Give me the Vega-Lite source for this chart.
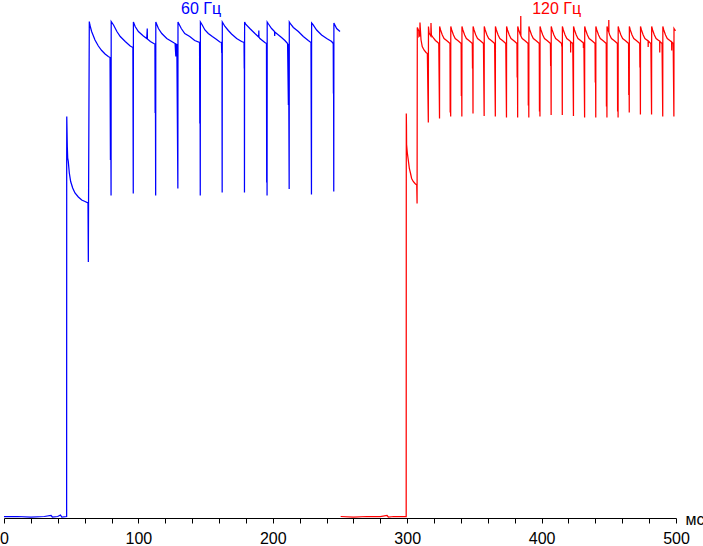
{
"$schema":"https://vega.github.io/schema/vega-lite/v6.json",
"width":672,"height":518,
"autosize":{"type":"none"},
"padding":{"left":4,"top":0,"right":27,"bottom":28},
"background":"white",
"config":{"view":{"stroke":null}},
"encoding":{
"x":{"field":"t","type":"quantitative","scale":{"domain":[0,500],"nice":false,"zero":false},
"axis":{"values":[0,20,40,60,80,100,120,140,160,180,200,220,240,260,280,300,320,340,360,380,400,420,440,460,480,500],
"labelExpr":"datum.value % 100 === 0 ? datum.label : ''","grid":false,"domainColor":"#000000","domainWidth":1,"tickColor":"#000000","tickSize":5,"tickWidth":1,
"labelFont":"Liberation Sans","labelFontSize":16,"labelColor":"#000000","labelBaseline":"alphabetic","labelPadding":20,"labelOverlap":false,"labelBound":false,"labelFlush":false,
"title":"мс","titleFont":"Liberation Sans","titleFontSize":16,"titleFontWeight":"normal","titleColor":"#000000","titleX":681,"titleY":6,"titleAlign":"left","titleBaseline":"alphabetic","titleAngle":0}},
"y":{"field":"v","type":"quantitative","scale":{"domain":[0,103.6],"nice":false,"zero":false},"axis":null},
"color":{"field":"s","type":"nominal","scale":{"domain":["60 Гц","120 Гц"],"range":["#0000ff","#ff0000"]},"legend":null}
},
"layer":[
{"data":{"values":[
{"s":"60 Гц","t":0,"v":0.3},{"s":"60 Гц","t":10,"v":0.3},{"s":"60 Гц","t":20,"v":0.2},{"s":"60 Гц","t":30,"v":0.3},{"s":"60 Гц","t":35,"v":0.5},{"s":"60 Гц","t":36,"v":0.2},{"s":"60 Гц","t":40,"v":0.3},{"s":"60 Гц","t":42,"v":0.6},{"s":"60 Гц","t":43,"v":0.2},{"s":"60 Гц","t":46.6,"v":0.3},
{"s":"60 Гц","t":46.65,"v":71.0},{"s":"60 Гц","t":46.7,"v":80.3},{"s":"60 Гц","t":47.1,"v":74.3},{"s":"60 Гц","t":47.4,"v":72.0},{"s":"60 Гц","t":47.8,"v":71.4},{"s":"60 Гц","t":48.6,"v":69.0},{"s":"60 Гц","t":49.6,"v":67.3},{"s":"60 Гц","t":51.1,"v":66.0},{"s":"60 Гц","t":52.8,"v":65.0},{"s":"60 Гц","t":55.3,"v":64.2},{"s":"60 Гц","t":57.8,"v":63.6},{"s":"60 Гц","t":60.3,"v":63.3},{"s":"60 Гц","t":62.5,"v":63.0},{"s":"60 Гц","t":62.75,"v":51.2},{"s":"60 Гц","t":62.9,"v":63.0},
{"s":"60 Гц","t":63.47,"v":99.3},{"s":"60 Гц","t":63.9,"v":98.6},{"s":"60 Гц","t":65.2,"v":97.3},{"s":"60 Гц","t":67.7,"v":95.6},{"s":"60 Гц","t":70.2,"v":94.4},{"s":"60 Гц","t":72.7,"v":93.5},{"s":"60 Гц","t":75.2,"v":92.8},{"s":"60 Гц","t":77.6,"v":92.3},{"s":"60 Гц","t":78.9,"v":92.1},{"s":"60 Гц","t":79.2,"v":71.6},{"s":"60 Гц","t":79.35,"v":92.0},{"s":"60 Гц","t":79.66,"v":64.5},
{"s":"60 Гц","t":79.76,"v":99.3},{"s":"60 Гц","t":81.5,"v":98.6},{"s":"60 Гц","t":84.0,"v":97.3},{"s":"60 Гц","t":86.5,"v":96.3},{"s":"60 Гц","t":90.2,"v":95.3},{"s":"60 Гц","t":93.9,"v":94.4},{"s":"60 Гц","t":95.9,"v":94.1},{"s":"60 Гц","t":96.18,"v":64.9},
{"s":"60 Гц","t":96.28,"v":99.2},{"s":"60 Гц","t":97.6,"v":98.3},{"s":"60 Гц","t":100.0,"v":97.3},{"s":"60 Гц","t":103.7,"v":96.4},{"s":"60 Гц","t":106.2,"v":95.9},{"s":"60 Гц","t":106.6,"v":97.9},{"s":"60 Гц","t":106.7,"v":95.8},{"s":"60 Гц","t":108.9,"v":95.3},{"s":"60 Гц","t":111.4,"v":94.9},{"s":"60 Гц","t":112.3,"v":94.8},{"s":"60 Гц","t":112.45,"v":81.0},{"s":"60 Гц","t":112.6,"v":94.8},{"s":"60 Гц","t":112.85,"v":64.5},
{"s":"60 Гц","t":112.95,"v":99.2},{"s":"60 Гц","t":114.9,"v":97.9},{"s":"60 Гц","t":117.4,"v":96.9},{"s":"60 Гц","t":121.1,"v":95.9},{"s":"60 Гц","t":124.8,"v":95.3},{"s":"60 Гц","t":127.3,"v":94.9},{"s":"60 Гц","t":127.85,"v":92.3},{"s":"60 Гц","t":127.95,"v":94.8},{"s":"60 Гц","t":128.6,"v":94.7},{"s":"60 Гц","t":129.36,"v":65.9},
{"s":"60 Гц","t":129.46,"v":99.2},{"s":"60 Гц","t":131.9,"v":97.9},{"s":"60 Гц","t":134.5,"v":96.9},{"s":"60 Гц","t":138.2,"v":96.3},{"s":"60 Гц","t":141.9,"v":95.5},{"s":"60 Гц","t":145.5,"v":95.1},{"s":"60 Гц","t":145.7,"v":78.9},{"s":"60 Гц","t":145.85,"v":95.1},{"s":"60 Гц","t":146.03,"v":64.5},
{"s":"60 Гц","t":146.13,"v":99.2},{"s":"60 Гц","t":147.5,"v":98.6},{"s":"60 Гц","t":149.5,"v":97.6},{"s":"60 Гц","t":152.0,"v":96.9},{"s":"60 Гц","t":155.0,"v":96.3},{"s":"60 Гц","t":158.2,"v":95.7},{"s":"60 Гц","t":160.6,"v":95.2},{"s":"60 Гц","t":161.8,"v":95.1},{"s":"60 Гц","t":162.0,"v":93.0},{"s":"60 Гц","t":162.15,"v":95.0},{"s":"60 Гц","t":162.33,"v":65.1},
{"s":"60 Гц","t":162.43,"v":99.2},{"s":"60 Гц","t":164.4,"v":98.3},{"s":"60 Гц","t":166.9,"v":97.5},{"s":"60 Гц","t":169.3,"v":96.8},{"s":"60 Гц","t":173.1,"v":95.9},{"s":"60 Гц","t":176.8,"v":95.3},{"s":"60 Гц","t":178.6,"v":95.1},{"s":"60 Гц","t":178.75,"v":89.9},{"s":"60 Гц","t":178.85,"v":95.0},{"s":"60 Гц","t":178.92,"v":65.1},
{"s":"60 Гц","t":179.02,"v":99.2},{"s":"60 Гц","t":180.0,"v":98.7},{"s":"60 Гц","t":182.9,"v":97.9},{"s":"60 Гц","t":186.7,"v":96.9},{"s":"60 Гц","t":189.5,"v":96.2},{"s":"60 Гц","t":189.6,"v":97.5},{"s":"60 Гц","t":189.7,"v":96.2},{"s":"60 Гц","t":190.4,"v":95.9},{"s":"60 Гц","t":194.1,"v":95.1},{"s":"60 Гц","t":195.3,"v":94.9},{"s":"60 Гц","t":195.45,"v":67.1},{"s":"60 Гц","t":195.6,"v":94.9},{"s":"60 Гц","t":195.73,"v":64.5},
{"s":"60 Гц","t":195.83,"v":99.2},{"s":"60 Гц","t":196.8,"v":98.8},{"s":"60 Гц","t":199.1,"v":97.9},{"s":"60 Гц","t":201.3,"v":97.3},{"s":"60 Гц","t":201.4,"v":96.4},{"s":"60 Гц","t":201.5,"v":97.2},{"s":"60 Гц","t":206.5,"v":96.1},{"s":"60 Гц","t":209.0,"v":95.5},{"s":"60 Гц","t":211.0,"v":94.9},{"s":"60 Гц","t":211.6,"v":82.6},{"s":"60 Гц","t":211.75,"v":94.8},{"s":"60 Гц","t":212.18,"v":65.8},
{"s":"60 Гц","t":212.28,"v":99.2},{"s":"60 Гц","t":213.2,"v":98.8},{"s":"60 Гц","t":215.3,"v":98.1},{"s":"60 Гц","t":219.0,"v":97.3},{"s":"60 Гц","t":222.7,"v":96.3},{"s":"60 Гц","t":226.4,"v":95.5},{"s":"60 Гц","t":228.4,"v":95.1},{"s":"60 Гц","t":228.77,"v":64.7},
{"s":"60 Гц","t":228.87,"v":99.0},{"s":"60 Гц","t":229.8,"v":98.7},{"s":"60 Гц","t":232.6,"v":97.6},{"s":"60 Гц","t":236.3,"v":96.6},{"s":"60 Гц","t":240.1,"v":95.9},{"s":"60 Гц","t":243.8,"v":95.3},{"s":"60 Гц","t":244.97,"v":94.9},{"s":"60 Гц","t":245.1,"v":84.9},{"s":"60 Гц","t":245.2,"v":94.9},{"s":"60 Гц","t":245.36,"v":65.3},
{"s":"60 Гц","t":245.46,"v":99.0},{"s":"60 Гц","t":246.0,"v":98.7},{"s":"60 Гц","t":247.5,"v":97.9},{"s":"60 Гц","t":250.0,"v":97.3},
{"s":"120 Гц","t":250.5,"v":0.3},{"s":"120 Гц","t":260,"v":0.2},{"s":"120 Гц","t":270,"v":0.3},{"s":"120 Гц","t":280,"v":0.3},{"s":"120 Гц","t":285,"v":0.5},{"s":"120 Гц","t":286,"v":0.2},{"s":"120 Гц","t":290,"v":0.3},{"s":"120 Гц","t":299.25,"v":0.3},
{"s":"120 Гц","t":299.33,"v":80.9},{"s":"120 Гц","t":299.45,"v":78.6},{"s":"120 Гц","t":299.55,"v":74.7},{"s":"120 Гц","t":300.1,"v":73.0},{"s":"120 Гц","t":300.8,"v":71.6},{"s":"120 Гц","t":301.6,"v":69.9},{"s":"120 Гц","t":302.5,"v":68.9},{"s":"120 Гц","t":303.3,"v":67.9},{"s":"120 Гц","t":304.5,"v":67.3},{"s":"120 Гц","t":305.8,"v":66.9},{"s":"120 Гц","t":307.1,"v":66.6},{"s":"120 Гц","t":307.35,"v":62.9},
{"s":"120 Гц","t":307.52,"v":98.1},{"s":"120 Гц","t":308.6,"v":97.4},{"s":"120 Гц","t":308.7,"v":96.3},{"s":"120 Гц","t":309.4,"v":96.5},{"s":"120 Гц","t":309.5,"v":99.1},{"s":"120 Гц","t":310.3,"v":95.6},{"s":"120 Гц","t":311.2,"v":94.3},{"s":"120 Гц","t":312.5,"v":93.6},{"s":"120 Гц","t":314.0,"v":93.1},{"s":"120 Гц","t":315.0,"v":92.9},{"s":"120 Гц","t":315.72,"v":79.1},
{"s":"120 Гц","t":315.82,"v":98.3},{"s":"120 Гц","t":316.3,"v":97.0},{"s":"120 Гц","t":317.6,"v":96.4},{"s":"120 Гц","t":317.7,"v":99.0},{"s":"120 Гц","t":318.0,"v":96.6},{"s":"120 Гц","t":319.5,"v":96.0},{"s":"120 Гц","t":321.0,"v":95.5},{"s":"120 Гц","t":322.8,"v":95.1},{"s":"120 Гц","t":323.5,"v":94.9},{"s":"120 Гц","t":324.05,"v":79.9},
{"s":"120 Гц","t":324.13,"v":98.3},{"s":"120 Гц","t":324.83,"v":97.6},{"s":"120 Гц","t":326.13,"v":96.6},{"s":"120 Гц","t":327.43,"v":95.9},{"s":"120 Гц","t":329.33,"v":95.5},{"s":"120 Гц","t":331.03,"v":95.1},{"s":"120 Гц","t":331.83,"v":94.9},{"s":"120 Гц","t":331.98,"v":81.1},{"s":"120 Гц","t":332.13,"v":94.9},{"s":"120 Гц","t":332.35,"v":80.3},
{"s":"120 Гц","t":332.43,"v":98.3},{"s":"120 Гц","t":333.13,"v":97.6},{"s":"120 Гц","t":334.43,"v":96.6},{"s":"120 Гц","t":335.73,"v":95.9},{"s":"120 Гц","t":337.63,"v":95.5},{"s":"120 Гц","t":339.33,"v":95.1},{"s":"120 Гц","t":340.14,"v":94.9},{"s":"120 Гц","t":340.29,"v":84.4},{"s":"120 Гц","t":340.44,"v":94.9},{"s":"120 Гц","t":340.66,"v":80.3},
{"s":"120 Гц","t":340.74,"v":98.3},{"s":"120 Гц","t":341.44,"v":97.6},{"s":"120 Гц","t":342.74,"v":96.6},{"s":"120 Гц","t":344.04,"v":95.9},{"s":"120 Гц","t":345.94,"v":95.5},{"s":"120 Гц","t":347.64,"v":95.1},{"s":"120 Гц","t":348.44,"v":94.9},{"s":"120 Гц","t":348.59,"v":89.9},{"s":"120 Гц","t":348.74,"v":94.9},{"s":"120 Гц","t":348.96,"v":80.9},
{"s":"120 Гц","t":349.04,"v":98.3},{"s":"120 Гц","t":349.74,"v":97.6},{"s":"120 Гц","t":351.04,"v":96.6},{"s":"120 Гц","t":352.34,"v":95.9},{"s":"120 Гц","t":354.24,"v":95.5},{"s":"120 Гц","t":355.94,"v":95.1},{"s":"120 Гц","t":356.74,"v":94.9},{"s":"120 Гц","t":357.26,"v":80.4},
{"s":"120 Гц","t":357.34,"v":98.3},{"s":"120 Гц","t":358.04,"v":97.6},{"s":"120 Гц","t":359.34,"v":96.6},{"s":"120 Гц","t":360.64,"v":95.9},{"s":"120 Гц","t":362.54,"v":95.5},{"s":"120 Гц","t":364.24,"v":95.1},{"s":"120 Гц","t":365.05,"v":94.9},{"s":"120 Гц","t":365.57,"v":80.3},
{"s":"120 Гц","t":365.65,"v":98.3},{"s":"120 Гц","t":366.35,"v":97.6},{"s":"120 Гц","t":367.65,"v":96.6},{"s":"120 Гц","t":368.95,"v":95.9},{"s":"120 Гц","t":370.85,"v":95.5},{"s":"120 Гц","t":372.55,"v":95.1},{"s":"120 Гц","t":373.35,"v":94.9},{"s":"120 Гц","t":373.87,"v":80.1},
{"s":"120 Гц","t":373.95,"v":98.3},{"s":"120 Гц","t":374.65,"v":97.6},{"s":"120 Гц","t":375.95,"v":96.6},{"s":"120 Гц","t":377.25,"v":95.9},{"s":"120 Гц","t":379.15,"v":95.5},{"s":"120 Гц","t":380.85,"v":95.1},{"s":"120 Гц","t":381.66,"v":94.9},{"s":"120 Гц","t":381.81,"v":88.1},{"s":"120 Гц","t":381.96,"v":94.9},{"s":"120 Гц","t":382.18,"v":80.1},
{"s":"120 Гц","t":382.26,"v":98.3},{"s":"120 Гц","t":382.96,"v":97.6},{"s":"120 Гц","t":384.26,"v":96.6},{"s":"120 Гц","t":384.45,"v":96.5},{"s":"120 Гц","t":384.5,"v":100.4},{"s":"120 Гц","t":384.6,"v":96.4},{"s":"120 Гц","t":385.56,"v":95.9},{"s":"120 Гц","t":387.46,"v":95.5},{"s":"120 Гц","t":389.16,"v":95.1},{"s":"120 Гц","t":389.96,"v":94.9},{"s":"120 Гц","t":390.11,"v":82.5},{"s":"120 Гц","t":390.26,"v":94.9},{"s":"120 Гц","t":390.48,"v":80.1},
{"s":"120 Гц","t":390.56,"v":98.3},{"s":"120 Гц","t":391.26,"v":97.6},{"s":"120 Гц","t":392.56,"v":96.6},{"s":"120 Гц","t":393.86,"v":95.9},{"s":"120 Гц","t":395.76,"v":95.5},{"s":"120 Гц","t":397.46,"v":95.1},{"s":"120 Гц","t":398.26,"v":94.9},{"s":"120 Гц","t":398.41,"v":81.3},{"s":"120 Гц","t":398.56,"v":94.9},{"s":"120 Гц","t":398.78,"v":80.3},
{"s":"120 Гц","t":398.86,"v":98.3},{"s":"120 Гц","t":399.56,"v":97.6},{"s":"120 Гц","t":400.86,"v":96.6},{"s":"120 Гц","t":402.16,"v":95.9},{"s":"120 Гц","t":404.06,"v":95.5},{"s":"120 Гц","t":405.76,"v":95.1},{"s":"120 Гц","t":406.57,"v":94.9},{"s":"120 Гц","t":406.72,"v":90.4},{"s":"120 Гц","t":406.87,"v":94.9},{"s":"120 Гц","t":407.09,"v":80.6},
{"s":"120 Гц","t":407.17,"v":98.3},{"s":"120 Гц","t":407.87,"v":97.6},{"s":"120 Гц","t":409.17,"v":96.6},{"s":"120 Гц","t":410.47,"v":95.9},{"s":"120 Гц","t":412.37,"v":95.5},{"s":"120 Гц","t":414.07,"v":95.1},{"s":"120 Гц","t":414.87,"v":94.9},{"s":"120 Гц","t":415.02,"v":94.3},{"s":"120 Гц","t":415.17,"v":94.9},{"s":"120 Гц","t":415.39,"v":80.6},
{"s":"120 Гц","t":415.47,"v":98.3},{"s":"120 Гц","t":416.17,"v":97.6},{"s":"120 Гц","t":417.47,"v":96.6},{"s":"120 Гц","t":418.77,"v":95.9},{"s":"120 Гц","t":420.67,"v":95.5},{"s":"120 Гц","t":421.55,"v":95.3},{"s":"120 Гц","t":421.6,"v":93.1},{"s":"120 Гц","t":421.7,"v":95.2},{"s":"120 Гц","t":422.37,"v":95.1},{"s":"120 Гц","t":423.18,"v":94.9},{"s":"120 Гц","t":423.7,"v":80.4},
{"s":"120 Гц","t":423.78,"v":98.3},{"s":"120 Гц","t":424.48,"v":97.6},{"s":"120 Гц","t":425.78,"v":96.6},{"s":"120 Гц","t":427.08,"v":95.9},{"s":"120 Гц","t":428.98,"v":95.5},{"s":"120 Гц","t":430.68,"v":95.1},{"s":"120 Гц","t":431.05,"v":95.0},{"s":"120 Гц","t":431.1,"v":94.0},{"s":"120 Гц","t":431.2,"v":95.0},{"s":"120 Гц","t":431.48,"v":94.9},{"s":"120 Гц","t":432.0,"v":80.1},
{"s":"120 Гц","t":432.08,"v":98.3},{"s":"120 Гц","t":432.78,"v":97.6},{"s":"120 Гц","t":434.08,"v":96.6},{"s":"120 Гц","t":435.38,"v":95.9},{"s":"120 Гц","t":437.28,"v":95.5},{"s":"120 Гц","t":438.98,"v":95.1},{"s":"120 Гц","t":439.78,"v":94.9},{"s":"120 Гц","t":439.93,"v":87.1},{"s":"120 Гц","t":440.08,"v":94.9},{"s":"120 Гц","t":440.3,"v":80.1},
{"s":"120 Гц","t":440.38,"v":98.3},{"s":"120 Гц","t":441.08,"v":97.6},{"s":"120 Гц","t":442.38,"v":96.6},{"s":"120 Гц","t":443.68,"v":95.9},{"s":"120 Гц","t":445.58,"v":95.5},{"s":"120 Гц","t":447.28,"v":95.1},{"s":"120 Гц","t":448.09,"v":94.9},{"s":"120 Гц","t":448.24,"v":82.3},{"s":"120 Гц","t":448.39,"v":94.9},{"s":"120 Гц","t":448.61,"v":80.1},
{"s":"120 Гц","t":448.69,"v":98.3},{"s":"120 Гц","t":449.39,"v":97.6},{"s":"120 Гц","t":449.95,"v":97.2},{"s":"120 Гц","t":450.0,"v":99.6},{"s":"120 Гц","t":450.1,"v":97.1},{"s":"120 Гц","t":450.69,"v":96.6},{"s":"120 Гц","t":451.99,"v":95.9},{"s":"120 Гц","t":453.89,"v":95.5},{"s":"120 Гц","t":455.59,"v":95.1},{"s":"120 Гц","t":456.39,"v":94.9},{"s":"120 Гц","t":456.54,"v":81.3},{"s":"120 Гц","t":456.69,"v":94.9},{"s":"120 Гц","t":456.91,"v":80.1},
{"s":"120 Гц","t":456.99,"v":98.3},{"s":"120 Гц","t":457.69,"v":97.6},{"s":"120 Гц","t":458.99,"v":96.6},{"s":"120 Гц","t":460.29,"v":95.9},{"s":"120 Гц","t":462.19,"v":95.5},{"s":"120 Гц","t":463.89,"v":95.1},{"s":"120 Гц","t":464.7,"v":94.9},{"s":"120 Гц","t":464.85,"v":84.6},{"s":"120 Гц","t":465.0,"v":94.9},{"s":"120 Гц","t":465.22,"v":81.1},
{"s":"120 Гц","t":465.3,"v":98.3},{"s":"120 Гц","t":466.0,"v":97.6},{"s":"120 Гц","t":467.3,"v":96.6},{"s":"120 Гц","t":468.6,"v":95.9},{"s":"120 Гц","t":470.5,"v":95.5},{"s":"120 Гц","t":472.2,"v":95.1},{"s":"120 Гц","t":473.0,"v":94.9},{"s":"120 Гц","t":473.15,"v":90.1},{"s":"120 Гц","t":473.3,"v":94.9},{"s":"120 Гц","t":473.52,"v":80.7},
{"s":"120 Гц","t":473.6,"v":98.3},{"s":"120 Гц","t":474.3,"v":97.6},{"s":"120 Гц","t":475.6,"v":96.6},{"s":"120 Гц","t":476.9,"v":95.9},{"s":"120 Гц","t":478.8,"v":95.5},{"s":"120 Гц","t":479.25,"v":95.4},{"s":"120 Гц","t":479.3,"v":94.2},{"s":"120 Гц","t":479.4,"v":95.4},{"s":"120 Гц","t":480.5,"v":95.1},{"s":"120 Гц","t":481.3,"v":94.9},{"s":"120 Гц","t":481.82,"v":80.7},
{"s":"120 Гц","t":481.9,"v":98.3},{"s":"120 Гц","t":482.6,"v":97.6},{"s":"120 Гц","t":483.9,"v":96.6},{"s":"120 Гц","t":485.2,"v":95.9},{"s":"120 Гц","t":487.1,"v":95.5},{"s":"120 Гц","t":487.85,"v":95.4},{"s":"120 Гц","t":487.9,"v":93.1},{"s":"120 Гц","t":488.0,"v":95.3},{"s":"120 Гц","t":488.8,"v":95.1},{"s":"120 Гц","t":489.61,"v":94.9},{"s":"120 Гц","t":490.13,"v":80.3},
{"s":"120 Гц","t":490.21,"v":98.3},{"s":"120 Гц","t":490.91,"v":97.6},{"s":"120 Гц","t":492.21,"v":96.6},{"s":"120 Гц","t":493.51,"v":95.9},{"s":"120 Гц","t":495.41,"v":95.5},{"s":"120 Гц","t":496.75,"v":95.2},{"s":"120 Гц","t":496.8,"v":93.5},{"s":"120 Гц","t":496.9,"v":95.2},{"s":"120 Гц","t":497.91,"v":94.9},{"s":"120 Гц","t":498.43,"v":80.3},
{"s":"120 Гц","t":498.51,"v":97.9},{"s":"120 Гц","t":499.2,"v":97.6},{"s":"120 Гц","t":499.9,"v":97.5}
]},
"mark":{"type":"line","strokeWidth":1.25,"interpolate":"linear"}
},
{"data":{"values":[{"s":"60 Гц","t":146.6,"v":100.9},{"s":"120 Гц","t":411.2,"v":100.9}]},
"mark":{"type":"text","font":"Liberation Sans","fontSize":16,"baseline":"alphabetic","align":"center"},
"encoding":{"text":{"field":"s","type":"nominal"}}}
]
}
